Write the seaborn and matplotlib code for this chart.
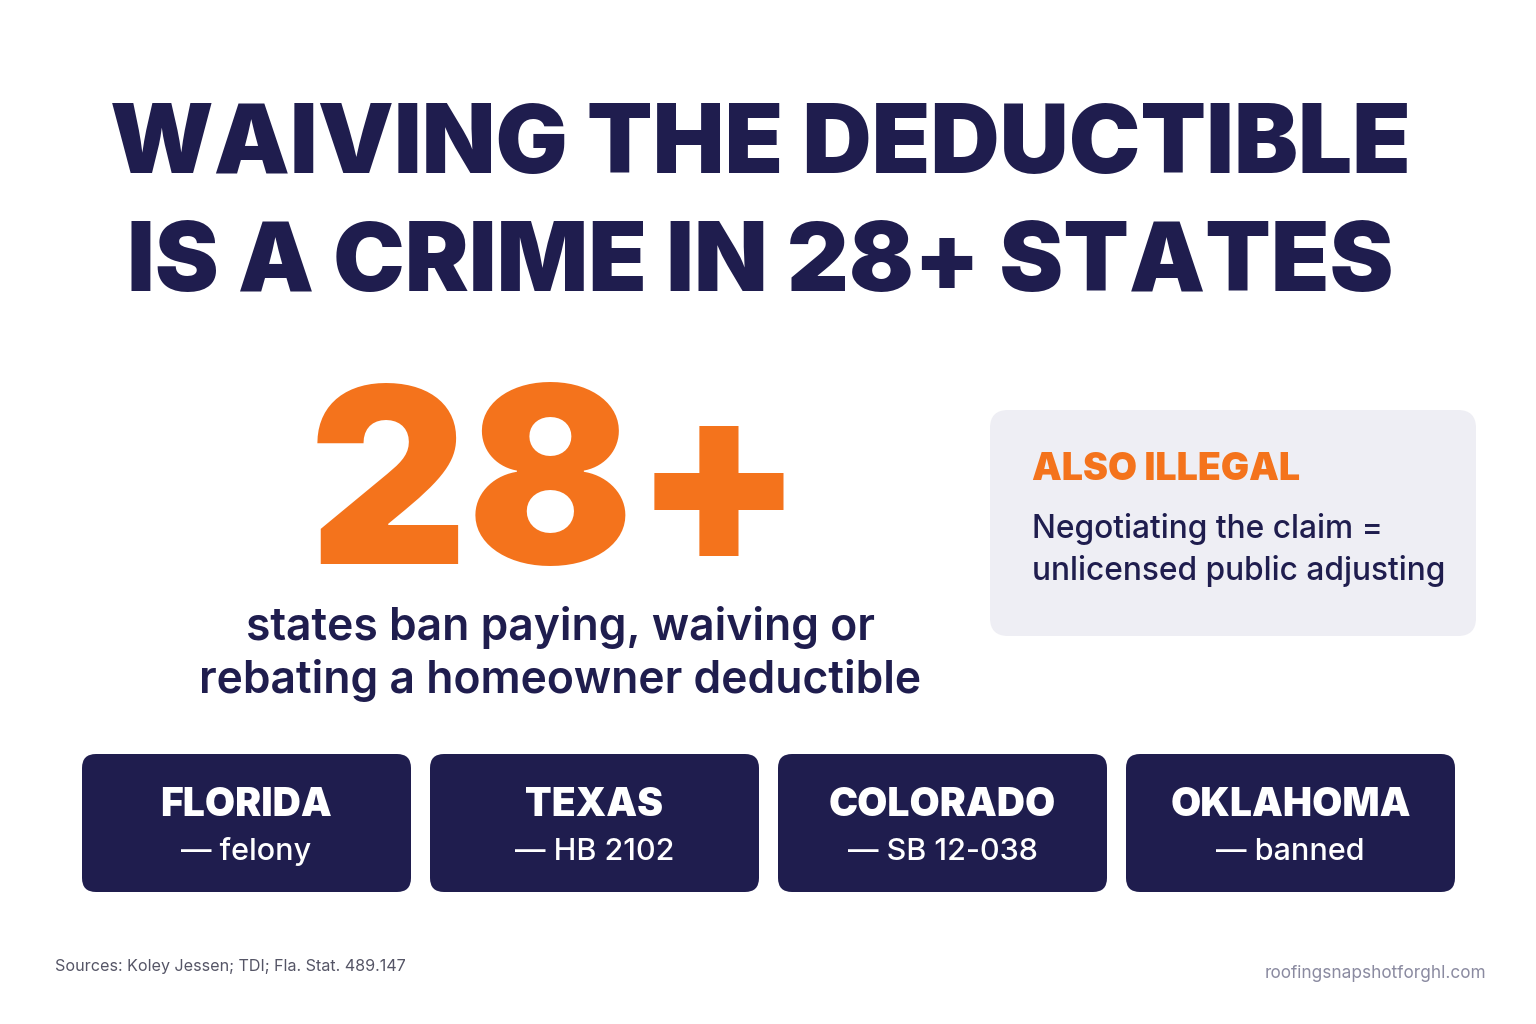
import matplotlib.pyplot as plt
import seaborn as sns
from matplotlib.patches import FancyBboxPatch

sns.set_theme(style="white")
plt.rcParams['font.family'] = ['Inter', 'DejaVu Sans']

NAVY = '#1f1d4e'
ORANGE = '#f4731c'

title_lines = ["WAIVING THE DEDUCTIBLE", "IS A CRIME IN 28+ STATES"]
big_number = "28+"
big_caption = "states ban paying, waiving or\nrebating a homeowner deductible"
side_heading = "ALSO ILLEGAL"
side_text = "Negotiating the claim =\nunlicensed public adjusting"
states = ["FLORIDA", "TEXAS", "COLORADO", "OKLAHOMA"]
state_notes = ["— felony", "— HB 2102", "— SB 12-038", "— banned"]
source = "Sources: Koley Jessen; TDI; Fla. Stat. 489.147"
site = "roofingsnapshotforghl.com"

fig = plt.figure(figsize=(15.36, 10.24), dpi=100)
ax = fig.add_axes([0, 0, 1, 1])
ax.set_xlim(0, 1536)
ax.set_ylim(1024, 0)
ax.axis('off')
fig.patch.set_facecolor('white')

# title
for i, line in enumerate(title_lines):
    ax.text(760, 148 + i * 118, line, ha='center', va='center', fontsize=69,
            fontweight='black', color=NAVY)

# big number
ax.text(557, 500, big_number, ha='center', va='center', fontsize=177,
        fontweight='black', color=ORANGE)
ax.text(560, 654, big_caption, ha='center', va='center', fontsize=32,
        fontweight='semibold', color=NAVY, linespacing=1.3)

# side box
ax.add_patch(FancyBboxPatch((990, 410), 486, 226, boxstyle="round,pad=0,rounding_size=18",
                            facecolor='#eeeef4', edgecolor='none'))
ax.text(1032, 470, side_heading, ha='left', va='center', fontsize=27,
        fontweight='black', color=ORANGE)
ax.text(1032, 550, side_text, ha='left', va='center', fontsize=22.8,
        fontweight='medium', color=NAVY, linespacing=1.4)

# state cards
x0, w, gap = 82, 329, 19
for i, (st, note) in enumerate(zip(states, state_notes)):
    x = x0 + i * (w + gap)
    ax.add_patch(FancyBboxPatch((x, 754), w, 138, boxstyle="round,pad=0,rounding_size=14",
                                facecolor=NAVY, edgecolor='none'))
    ax.text(x + w / 2, 805, st, ha='center', va='center', fontsize=28,
            fontweight='black', color='white')
    ax.text(x + w / 2, 852, note, ha='center', va='center', fontsize=22,
            fontweight='medium', color='white')

ax.text(55, 966, source, ha='left', va='center', fontsize=11.6, color='#555566')
ax.text(1486, 974, site, ha='right', va='center', fontsize=12.4, color='#8a8aa0')

fig.savefig('out.png', dpi=100, facecolor='white')
